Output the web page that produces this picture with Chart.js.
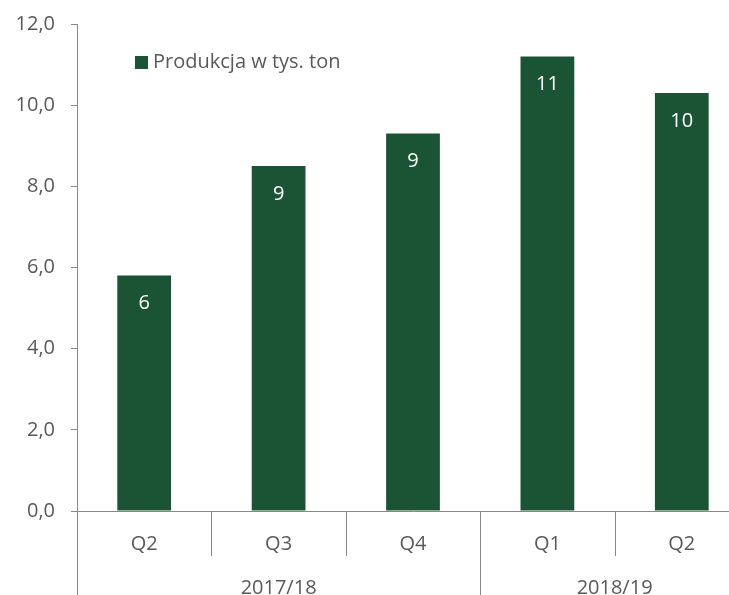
<!DOCTYPE html>
<html>
<head>
<meta charset="utf-8">
<script src="https://cdn.jsdelivr.net/npm/chart.js@4"></script>
<style>
  html, body { margin: 0; padding: 0; background: #ffffff; overflow: hidden; }
  #wrap { width: 729px; height: 595px; overflow: hidden; }
  canvas { display: block; }
</style>
</head>
<body>
<div id="wrap"><canvas id="chart" width="750" height="595"></canvas></div>
<script>
// Quarterly production, thousand tonnes
const quarters = ['Q2', 'Q3', 'Q4', 'Q1', 'Q2'];
const seasons = ['2017/18', '2018/19'];
const seasonSpans = [3, 2];
const production = [5.8, 8.5, 9.3, 11.2, 10.3];
const seriesName = 'Produkcja w tys. ton';
const yTicks = [0, 2, 4, 6, 8, 10, 12];

const GREEN = '#1a5434';
const AXIS = '#898989';
const TEXT = '#595959';
const FONT = '"Open Sans", "Noto Sans", sans-serif';
const FONT_SIZE = 20;

// Value labels inside the top of each bar
const barValueLabels = {
  id: 'barValueLabels',
  afterDatasetsDraw(chart) {
    const ctx = chart.ctx;
    const meta = chart.getDatasetMeta(0);
    ctx.save();
    ctx.fillStyle = '#ffffff';
    ctx.font = FONT_SIZE + 'px ' + FONT;
    ctx.textAlign = 'center';
    ctx.textBaseline = 'middle';
    meta.data.forEach((bar, i) => {
      ctx.fillText(String(Math.round(production[i])), bar.x, bar.y + 28);
    });
    ctx.restore();
  }
};

// Two-level category axis: quarters, then seasons
const groupedAxis = {
  id: 'groupedAxis',
  afterDraw(chart) {
    const ctx = chart.ctx;
    const x = chart.scales.x;
    const base = chart.chartArea.bottom;
    const H = chart.height;
    const edge = i => i === 0 ? x.left : (i >= quarters.length ? x.right : (x.getPixelForValue(i - 1) + x.getPixelForValue(i)) / 2);

    // group boundaries
    const groupStarts = [0];
    seasonSpans.forEach((s, k) => groupStarts.push(groupStarts[k] + s));

    ctx.save();
    ctx.strokeStyle = AXIS;
    ctx.lineWidth = 1;
    for (let i = 0; i <= quarters.length; i++) {
      const px = Math.round(edge(i)) + 0.5;
      const full = groupStarts.includes(i);
      ctx.beginPath();
      ctx.moveTo(px, base);
      ctx.lineTo(px, full ? H : base + 45);
      ctx.stroke();
    }

    ctx.fillStyle = TEXT;
    ctx.font = FONT_SIZE + 'px ' + FONT;
    ctx.textAlign = 'center';
    ctx.textBaseline = 'middle';
    quarters.forEach((q, i) => {
      ctx.fillText(q, x.getPixelForValue(i), base + 33);
    });
    seasons.forEach((s, k) => {
      const a = edge(groupStarts[k]);
      const b = edge(groupStarts[k + 1]);
      ctx.fillText(s, (a + b) / 2, base + 77);
    });
    ctx.restore();
  }
};

// Legend placed inside the plot area
const innerLegend = {
  id: 'innerLegend',
  afterDraw(chart) {
    const ctx = chart.ctx;
    const ds = chart.data.datasets[0];
    ctx.save();
    ctx.fillStyle = ds.backgroundColor;
    ctx.fillRect(135, 56, 13, 13);
    ctx.fillStyle = TEXT;
    ctx.font = FONT_SIZE + 'px ' + FONT;
    ctx.textAlign = 'left';
    ctx.textBaseline = 'middle';
    ctx.fillText(ds.label, 153, 62);
    ctx.restore();
  }
};

new Chart(document.getElementById('chart'), {
  type: 'bar',
  data: {
    labels: quarters,
    datasets: [{
      label: seriesName,
      data: production,
      backgroundColor: GREEN,
      borderWidth: 0,
      barPercentage: 0.4,
      categoryPercentage: 1.0
    }]
  },
  options: {
    responsive: false,
    animation: false,
    devicePixelRatio: 1,
    layout: { padding: { top: 24, right: 1, left: 0, bottom: 0 } },
    plugins: {
      legend: { display: false },
      tooltip: { enabled: false }
    },
    scales: {
      x: {
        grid: { display: false, drawTicks: false },
        border: { display: true, color: AXIS, width: 1 },
        ticks: { display: false },
        afterFit(scale) { scale.height = 84; }
      },
      y: {
        min: 0,
        max: 12,
        afterBuildTicks(scale) { scale.ticks = yTicks.map(v => ({ value: v })); },
        grid: { drawOnChartArea: false, drawTicks: true, tickLength: 6, color: AXIS },
        border: { display: true, color: AXIS, width: 1 },
        ticks: {
          color: TEXT,
          padding: 16,
          font: { family: FONT, size: FONT_SIZE },
          callback: v => v.toFixed(1).replace('.', ',')
        },
        afterFit(scale) {
          scale.width = 77;
          scale.paddingTop = 0;
          scale.paddingBottom = 0;
        }
      }
    }
  },
  plugins: [barValueLabels, groupedAxis, innerLegend]
});
</script>
</body>
</html>
